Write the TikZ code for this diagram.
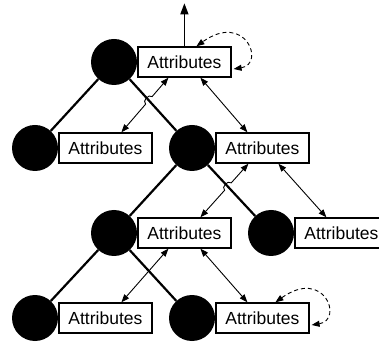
\documentclass[tikz,border=0pt]{standalone}
\usepackage{fontspec}
\setmainfont{Liberation Sans}
\usetikzlibrary{arrows.meta,calc}
\begin{document}
\begin{tikzpicture}[x=1pt,y=1pt,
  dot/.style={circle,fill=black,minimum size=46pt,inner sep=0pt},
  attr/.style={draw,line width=1.4pt,minimum width=93pt,minimum height=30pt,inner sep=0pt,anchor=west,font=\fontsize{17.5}{20}\selectfont},
  tree/.style={line width=2.2pt},
  link/.style={line width=0.9pt,{Triangle[length=8pt,width=6pt]}-{Triangle[length=8pt,width=6pt]}},
  dashloop/.style={line width=0.9pt,dash pattern=on 4pt off 3pt,{Triangle[length=8pt,width=6pt]}-{Triangle[length=8pt,width=6pt]}}]
\useasboundingbox (0,0) rectangle (379,342);
\clip (0,0) rectangle (379,342);
% tree nodes
\node[dot] (A) at (114,280) {};
\node[dot] (B) at (35,194) {};
\node[dot] (C) at (192,194) {};
\node[dot] (D) at (114,109) {};
\node[dot] (E) at (271,109) {};
\node[dot] (F) at (35,24) {};
\node[dot] (G) at (192,24) {};
% attribute boxes
\node[attr] (bA) at (A.east) {Attributes};
\node[attr] (bB) at (B.east) {Attributes};
\node[attr] (bC) at (C.east) {Attributes};
\node[attr] (bD) at (D.east) {Attributes};
\node[attr] (bE) at (E.east) {Attributes};
\node[attr] (bF) at (F.east) {Attributes};
\node[attr] (bG) at (G.east) {Attributes};
% tree edges
\draw[tree] (A) -- (B);
\draw[tree] (A) -- (C);
\draw[tree] (C) -- (D);
\draw[tree] (C) -- (E);
\draw[tree] (D) -- (F);
\draw[tree] (D) -- (G);
% upward arrow
\coordinate (top) at ($(bA.north)+(0,43)$);
\draw[line width=1.2pt,-{Triangle[length=11pt,width=8pt]}] (bA.north) -- (top);
% links with hops
\coordinate (a1) at ([xshift=-16pt]bA.south);
\coordinate (b1) at ([xshift=16pt]bB.north);
\coordinate (x1) at (intersection of A--C and a1--b1);
\draw[link] (b1) -- ($(x1)!5pt!(b1)$) to[bend left=90,looseness=1.2] ($(x1)!5pt!(a1)$) -- (a1);
\coordinate (c1) at ([xshift=-14pt]bC.south);
\coordinate (d1) at ([xshift=16pt]bD.north);
\coordinate (x2) at (intersection of C--E and c1--d1);
\draw[link] (d1) -- ($(x2)!5pt!(d1)$) to[bend left=90,looseness=1.2] ($(x2)!5pt!(c1)$) -- (c1);
% straight links
\draw[link] ([xshift=16pt]bA.south) -- ([xshift=-15pt]bC.north);
\draw[link] ([xshift=16pt]bC.south) -- ([xshift=-15pt]bE.north);
\draw[link] ([xshift=-16pt]bD.south) -- ([xshift=16pt]bF.north);
\draw[link] ([xshift=16pt]bD.south) -- ([xshift=-15pt]bG.north);
% dashed self loops
\draw[dashloop] ([xshift=2pt,yshift=-7pt]bA.east) .. controls +(32,5) and +(49,35) .. ([xshift=12pt]bA.north);
\draw[dashloop] ([xshift=2pt,yshift=-7pt]bG.east) .. controls +(32,5) and +(49,35) .. ([xshift=13pt]bG.north);
\end{tikzpicture}
\end{document}
